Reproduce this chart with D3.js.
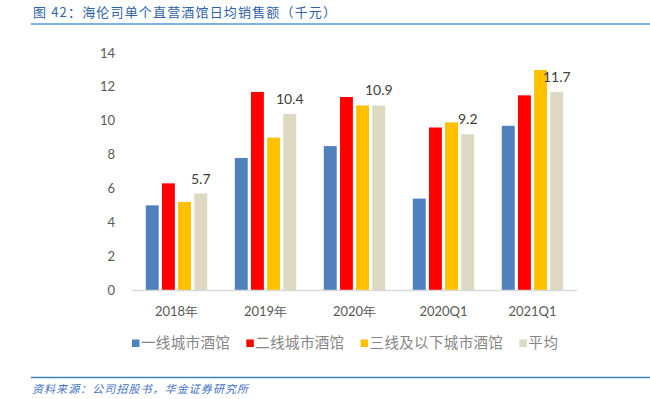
<!DOCTYPE html>
<html>
<head>
<meta charset="utf-8">
<script src="https://cdn.jsdelivr.net/npm/d3@7"></script>
<style>
  body { margin: 0; background: #fff; }
  svg { display: block; }
</style>
</head>
<body>
<svg width="650" height="399"></svg>
<script>

const categories = ['2018年', '2019年', '2020年', '2020Q1', '2021Q1'];
const seriesNames = ['一线城市酒馆', '二线城市酒馆', '三线及以下城市酒馆', '平均'];
const tier1 = [5.0, 7.8, 8.5, 5.4, 9.7];
const tier2 = [6.3, 11.7, 11.4, 9.6, 11.5];
const tier3 = [5.2, 9.0, 10.9, 9.9, 13.0];
const average = [5.7, 10.4, 10.9, 9.2, 11.7];
const yTicks = [0, 2, 4, 6, 8, 10, 12, 14];

const colors = ['#4f81bd', '#ff0000', '#ffc000', '#ddd9c3'];
const series = [tier1, tier2, tier3, average];

const svg = d3.select('svg');
const cjk = '"Noto Sans CJK SC", sans-serif';
const latin = 'Lato, "Noto Sans", sans-serif';

// header
svg.append('text')
  .attr('x', 33).attr('y', 17)
  .attr('font-family', cjk).attr('font-size', 13)
  .attr('fill', '#2f62a6')
  .attr('textLength', 303).attr('lengthAdjust', 'spacing')
  .text('图 42：海伦司单个直营酒馆日均销售额（千元）');
svg.append('line')
  .attr('x1', 31).attr('x2', 650).attr('y1', 24).attr('y2', 24)
  .attr('stroke', '#7fb4e0').attr('stroke-width', 2);

const y = d3.scaleLinear().domain([0, 14]).range([290, 53]);
const x = d3.scaleBand().domain(categories).range([132, 577])
  .paddingInner(0.31).paddingOuter(0.155);
const xs = d3.scaleBand().domain(d3.range(4)).range([0, x.bandwidth()]).paddingInner(0.2);

// y axis labels
svg.append('g')
  .selectAll('text')
  .data(yTicks)
  .join('text')
  .attr('x', 115).attr('y', d => y(d))
  .attr('dy', '0.35em')
  .attr('text-anchor', 'end')
  .attr('font-family', latin).attr('font-size', 13)
  .attr('fill', '#595959')
  .text(d => d);

// bars
series.forEach((vals, si) => {
  svg.append('g')
    .selectAll('rect')
    .data(vals)
    .join('rect')
    .attr('x', (d, i) => x(categories[i]) + xs(si))
    .attr('width', xs.bandwidth())
    .attr('y', d => y(d))
    .attr('height', d => y(0) - y(d))
    .attr('fill', colors[si]);
});

// baseline
svg.append('line')
  .attr('x1', 132).attr('x2', 577).attr('y1', y(0) + 0.5).attr('y2', y(0) + 0.5)
  .attr('stroke', '#d9d9d9').attr('stroke-width', 1.5);

// labels on the average bars
svg.append('g')
  .selectAll('text')
  .data(average)
  .join('text')
  .attr('x', (d, i) => x(categories[i]) + xs(3) + xs.bandwidth() / 2)
  .attr('y', d => y(d) - 10)
  .attr('text-anchor', 'middle')
  .attr('font-family', latin).attr('font-size', 14)
  .attr('fill', '#404040')
  .text(d => d.toFixed(1));

// x axis labels
svg.append('g')
  .selectAll('text')
  .data(categories)
  .join('text')
  .attr('x', d => x(d) + x.bandwidth() / 2)
  .attr('y', 316)
  .attr('text-anchor', 'middle')
  .attr('font-family', latin).attr('font-size', 13)
  .attr('fill', '#595959')
  .text(d => d);

// legend - ~14.8px per glyph like the original
const legend = svg.append('g');
let lx = 132;
seriesNames.forEach((name, i) => {
  const w = name.length * 14.8;
  legend.append('rect')
    .attr('x', lx).attr('y', 339.5).attr('width', 7.5).attr('height', 7.5)
    .attr('fill', colors[i]);
  legend.append('text')
    .attr('x', lx + 9).attr('y', 348)
    .attr('font-family', cjk).attr('font-size', 14.5)
    .attr('fill', '#868686')
    .attr('textLength', w).attr('lengthAdjust', 'spacing')
    .text(name);
  lx += 9 + w + 16.5;
});

// footer
svg.append('line')
  .attr('x1', 31).attr('x2', 650).attr('y1', 377.5).attr('y2', 377.5)
  .attr('stroke', '#3d85c6').attr('stroke-width', 1.5);
svg.append('text')
  .attr('x', 32).attr('y', 393)
  .attr('font-family', cjk).attr('font-size', 11)
  .attr('font-style', 'italic')
  .attr('fill', '#4472c4')
  .attr('textLength', 216).attr('lengthAdjust', 'spacing')
  .text('资料来源：公司招股书，华金证券研究所');

</script>
</body>
</html>
